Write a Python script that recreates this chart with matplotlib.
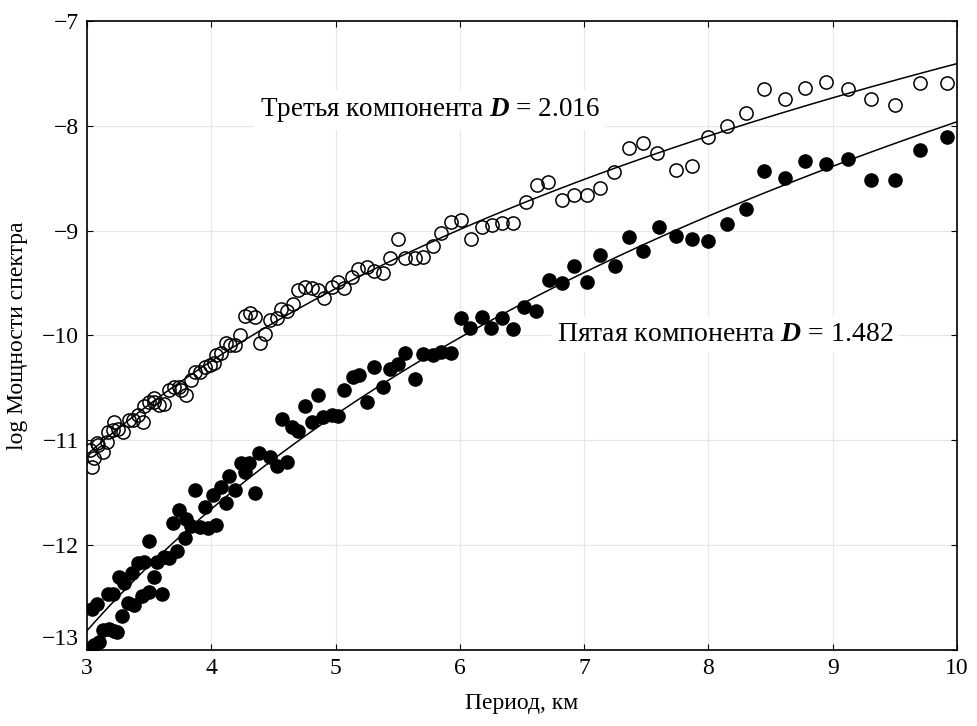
import matplotlib
matplotlib.use("Agg")
import matplotlib.pyplot as plt
import numpy as np

plt.rcParams['font.family'] = ['Liberation Serif', 'DejaVu Serif']
plt.rcParams['mathtext.fontset'] = 'custom'
plt.rcParams['mathtext.it'] = 'Liberation Serif:italic:bold'
plt.rcParams['mathtext.rm'] = 'Liberation Serif'

# Пятая компонента (filled)
x5 = np.array([3.02, 3.06, 3.10, 3.13, 3.18, 3.22, 3.24, 3.28, 3.04, 3.08,
               3.17, 3.21, 3.33, 3.38, 3.44, 3.50, 3.60, 3.26, 3.30, 3.36,
               3.41, 3.46, 3.54, 3.56, 3.50, 3.62, 3.66, 3.72, 3.69, 3.74,
               3.79, 3.80, 3.84, 3.91, 3.97, 4.04, 3.87, 3.95, 4.01, 4.08,
               4.12, 4.14, 4.19, 4.24, 4.30, 4.27, 4.35, 4.38, 4.47, 4.53,
               4.61, 4.57, 4.65, 4.70, 4.75, 4.81, 4.86, 4.90, 4.97, 5.02,
               5.07, 5.14, 5.19, 5.25, 5.31, 5.38, 5.44, 5.50, 5.56, 5.64,
               5.70, 5.78, 5.85, 5.93, 6.01, 6.08, 6.18, 6.25, 6.34, 6.43,
               6.52, 6.61, 6.72, 6.82, 6.92, 7.02, 7.13, 7.25, 7.36, 7.47,
               7.60, 7.74, 7.87, 8.00, 8.15, 8.30, 8.45, 8.62, 8.78, 8.95,
               9.12, 9.31, 9.50, 9.70, 9.92])
y5 = np.array([-12.98, -12.95, -12.93, -12.81, -12.80, -12.82, -12.83, -12.68, -12.61, -12.56,
               -12.47, -12.47, -12.55, -12.57, -12.49, -12.45, -12.47, -12.31, -12.36, -12.27,
               -12.17, -12.16, -12.31, -12.16, -11.96, -12.11, -12.12, -12.06, -11.79, -11.67,
               -11.93, -11.75, -11.82, -11.83, -11.84, -11.81, -11.48, -11.64, -11.52, -11.45,
               -11.60, -11.34, -11.48, -11.22, -11.22, -11.30, -11.50, -11.12, -11.16, -11.25,
               -11.21, -10.80, -10.87, -10.91, -10.67, -10.83, -10.57, -10.78, -10.76, -10.77,
               -10.52, -10.40, -10.38, -10.64, -10.30, -10.49, -10.32, -10.27, -10.17, -10.42,
               -10.18, -10.19, -10.16, -10.17, -9.83, -9.93, -9.82, -9.93, -9.83, -9.94,
               -9.73, -9.77, -9.47, -9.50, -9.34, -9.49, -9.23, -9.34, -9.06, -9.19,
               -8.97, -9.05, -9.08, -9.10, -8.94, -8.79, -8.43, -8.50, -8.34, -8.36,
               -8.32, -8.52, -8.52, -8.23, -8.11])

# Третья компонента (open)
x3 = np.array([3.04, 3.06, 3.02, 3.13, 3.08, 3.09, 3.16, 3.17, 3.21, 3.25,
               3.22, 3.29, 3.34, 3.37, 3.41, 3.45, 3.46, 3.50, 3.54, 3.54,
               3.58, 3.62, 3.66, 3.70, 3.74, 3.76, 3.80, 3.84, 3.87, 3.91,
               3.95, 3.99, 4.02, 4.04, 4.08, 4.12, 4.15, 4.19, 4.23, 4.27,
               4.31, 4.35, 4.39, 4.43, 4.47, 4.53, 4.56, 4.61, 4.66, 4.70,
               4.75, 4.81, 4.86, 4.91, 4.97, 5.02, 5.07, 5.13, 5.18, 5.25,
               5.31, 5.38, 5.44, 5.50, 5.56, 5.64, 5.70, 5.78, 5.85, 5.93,
               6.01, 6.09, 6.18, 6.26, 6.34, 6.43, 6.53, 6.62, 6.71, 6.82,
               6.92, 7.02, 7.13, 7.24, 7.36, 7.47, 7.59, 7.74, 7.87, 8.00,
               8.15, 8.30, 8.45, 8.62, 8.78, 8.95, 9.12, 9.31, 9.50, 9.70,
               9.92])
y3 = np.array([-11.26, -11.17, -11.09, -11.11, -11.03, -11.05, -11.02, -10.92, -10.90, -10.89,
               -10.83, -10.92, -10.81, -10.81, -10.76, -10.83, -10.67, -10.64, -10.60, -10.64,
               -10.66, -10.65, -10.52, -10.49, -10.49, -10.52, -10.57, -10.43, -10.35, -10.35,
               -10.30, -10.28, -10.26, -10.19, -10.17, -10.07, -10.09, -10.09, -10.00, -9.81,
               -9.79, -9.82, -10.07, -9.99, -9.85, -9.83, -9.75, -9.77, -9.70, -9.57,
               -9.54, -9.55, -9.57, -9.64, -9.54, -9.49, -9.55, -9.44, -9.37, -9.35,
               -9.39, -9.40, -9.26, -9.08, -9.26, -9.26, -9.25, -9.15, -9.02, -8.92,
               -8.90, -9.08, -8.97, -8.95, -8.93, -8.93, -8.73, -8.56, -8.54, -8.71,
               -8.66, -8.66, -8.59, -8.44, -8.21, -8.16, -8.26, -8.42, -8.38, -8.11,
               -8.00, -7.88, -7.65, -7.74, -7.64, -7.58, -7.65, -7.74, -7.80, -7.59,
               -7.59])

xticks = [3, 4, 5, 6, 7, 8, 9, 10]
yticks = [-13, -12, -11, -10, -9, -8, -7]

fig = plt.figure(figsize=(9.78, 7.26), dpi=100)
ax = fig.add_axes([0.089, 0.105, 0.8895, 0.866])

ax.grid(True, color='#e6e6e6', linewidth=0.8, zorder=0)

# power-law trend lines: fit in log(period)
xs = np.linspace(3, 10, 200)
p3 = np.polyfit(np.log(x3), y3, 1)
p5 = np.polyfit(np.log(x5), y5, 1)
ax.plot(xs, np.polyval(p3, np.log(xs)), color='black', linewidth=1.1, zorder=2)
ax.plot(xs, np.polyval(p5, np.log(xs)), color='black', linewidth=1.1, zorder=2)

ax.plot(x3, y3, 'o', markersize=9.5, markerfacecolor='none',
        markeredgecolor='black', markeredgewidth=1.1, zorder=3)
ax.plot(x5, y5, 'o', markersize=9.5, markerfacecolor='black',
        markeredgecolor='black', zorder=3)

ax.set_xlim(3, 10)
ax.set_ylim(-13, -7)
ax.set_xticks(xticks)
ax.set_yticks(yticks)
ax.tick_params(direction='in', top=True, right=True, length=4,
               labelsize=17, pad=6)
ax.get_yticklabels()[0].set_verticalalignment('bottom')
for s in ax.spines.values():
    s.set_linewidth(1.2)
    s.set_zorder(5)

ax.set_xlabel('Период, км', fontsize=17, labelpad=10)
ax.set_ylabel('log Мощности спектра', fontsize=17, labelpad=10)

box = dict(facecolor='white', edgecolor='none', pad=4)
ax.text(4.39, -7.85, 'Третья компонента $D$ = 2.016', fontsize=19.5,
        va='center', ha='left', bbox=box, zorder=4)
ax.text(6.78, -9.99, 'Пятая компонента $D$ = 1.482', fontsize=20,
        va='center', ha='left', bbox=box, zorder=4)

fig.savefig('out.png', dpi=100)
